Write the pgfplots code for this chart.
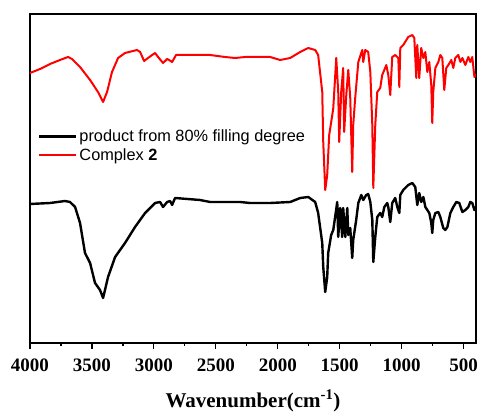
\documentclass[border=0pt]{standalone}
\usepackage{fontspec}
\setmainfont{Liberation Serif}
\newfontfamily\arial{Liberation Sans}
\usepackage{pgfplots}
\pgfplotsset{compat=1.18}
\usetikzlibrary{calc}
\begin{document}
\begin{tikzpicture}
\begin{axis}[
  scale only axis,
  width=446bp, height=329bp,
  x dir=reverse,
  xmin=400, xmax=4000,
  ymin=71, ymax=400,
  xtick={500,1000,...,4000},
  minor x tick num=1,
  ytick=\empty,
  xtick pos=bottom,
  tick align=outside,
  major tick length=6bp,
  minor tick length=3bp,
  axis line style={line width=1.5bp},
  every tick/.style={line width=1.2bp, black},
  /pgf/number format/assume math mode=true,
  /pgf/number format/1000 sep={},
  ticklabel style={font=\fontsize{19bp}{22bp}\selectfont\bfseries},
  xticklabel style={yshift=-6bp},
  xlabel={Wavenumber(cm\textsuperscript{-1})},
  xlabel style={font=\fontsize{21bp}{24bp}\selectfont\bfseries, yshift=-12bp},
  legend style={draw=none, fill=none, at={(0.011,0.66)}, anchor=north west,
    font=\arial\fontsize{16.3bp}{19bp}\selectfont, row sep=1.5bp},
  legend cell align=left,
  legend image code/.code={\draw[#1] (0bp,0bp) -- (37bp,0bp);},
]
\addplot[black, line width=2.4bp, line join=round] coordinates {
(4000,210) (3838,211) (3717,213) (3677,212) (3636,207) (3596,191) (3556,161) (3515,151)
(3475,131) (3435,124) (3410,116) (3370,137) (3313,157) (3233,171) (3152,187) (3071,201)
(2990,211) (2950,212) (2926,207) (2893,212) (2869,213) (2853,209) (2829,216) (2627,214)
(2546,212) (2304,212) (2223,211) (2061,211) (1900,212) (1819,216) (1754,217) (1698,212)
(1674,201) (1641,171) (1633,147) (1617,122) (1601,137) (1593,161) (1569,179) (1552,184)
(1520,212) (1512,177) (1496,206) (1480,177) (1472,206) (1455,177) (1439,206) (1431,179)
(1415,186) (1399,156) (1391,174) (1367,194) (1350,211) (1326,219) (1310,214) (1286,219)
(1270,220) (1253,212) (1237,194) (1229,152) (1213,177) (1197,197) (1173,201) (1157,197)
(1140,207) (1116,211) (1108,207) (1092,192) (1076,211) (1052,216) (1035,207) (1019,201)
(1011,219) (987,224) (947,229) (914,231) (890,227) (874,209) (858,221) (842,212)
(825,217) (809,207) (793,204) (777,201) (761,191) (753,181) (745,194) (728,201)
(704,202) (688,197) (664,186) (648,184) (631,187) (607,201) (583,207) (559,212)
(535,211) (510,202) (486,204) (462,207) (446,212) (430,211) (413,204) (400,207)
};
\addlegendentry{product from 80\% filling degree}
\addplot[red, line width=2bp, line join=round] coordinates {
(4000,341) (3919,345) (3838,350) (3758,354) (3693,357) (3661,355) (3596,347) (3515,334)
(3451,322) (3410,312) (3378,322) (3338,342) (3289,356) (3233,361) (3136,364) (3111,362)
(3079,353) (3047,356) (3014,359) (2990,361) (2966,357) (2926,351) (2893,355) (2877,354)
(2853,352) (2821,359) (2707,359) (2546,359) (2425,357) (2344,356) (2263,357) (2061,357)
(1981,354) (1900,356) (1819,362) (1754,366) (1698,364) (1674,359) (1641,322) (1633,272)
(1617,224) (1601,239) (1585,279) (1560,299) (1552,306) (1528,356) (1512,322) (1504,272)
(1488,322) (1472,346) (1464,282) (1447,319) (1431,344) (1415,316) (1399,242) (1391,289)
(1375,316) (1350,352) (1318,364) (1310,352) (1294,364) (1270,362) (1253,342) (1237,289)
(1229,226) (1213,289) (1197,322) (1173,326) (1157,339) (1140,344) (1124,349) (1108,339)
(1092,319) (1076,357) (1052,359) (1027,356) (1019,327) (1011,366) (987,369) (947,377)
(914,379) (898,376) (882,336) (874,369) (858,336) (842,366) (825,356) (809,362)
(793,342) (777,352) (761,329) (753,291) (745,322) (728,346) (704,352) (688,359)
(672,356) (656,324) (640,346) (623,349) (599,354) (583,346) (567,356) (543,359)
(526,352) (510,356) (486,349) (462,357) (446,352) (430,357) (413,337) (400,340)
};
\addlegendentry{Complex \textbf{2}}
\coordinate (sw) at (rel axis cs:0,0);
\end{axis}
\pgfresetboundingbox
\useasboundingbox ($(sw)+(-30bp,-71bp)$) rectangle ($(sw)+(451bp,343bp)$);
\end{tikzpicture}
\end{document}
